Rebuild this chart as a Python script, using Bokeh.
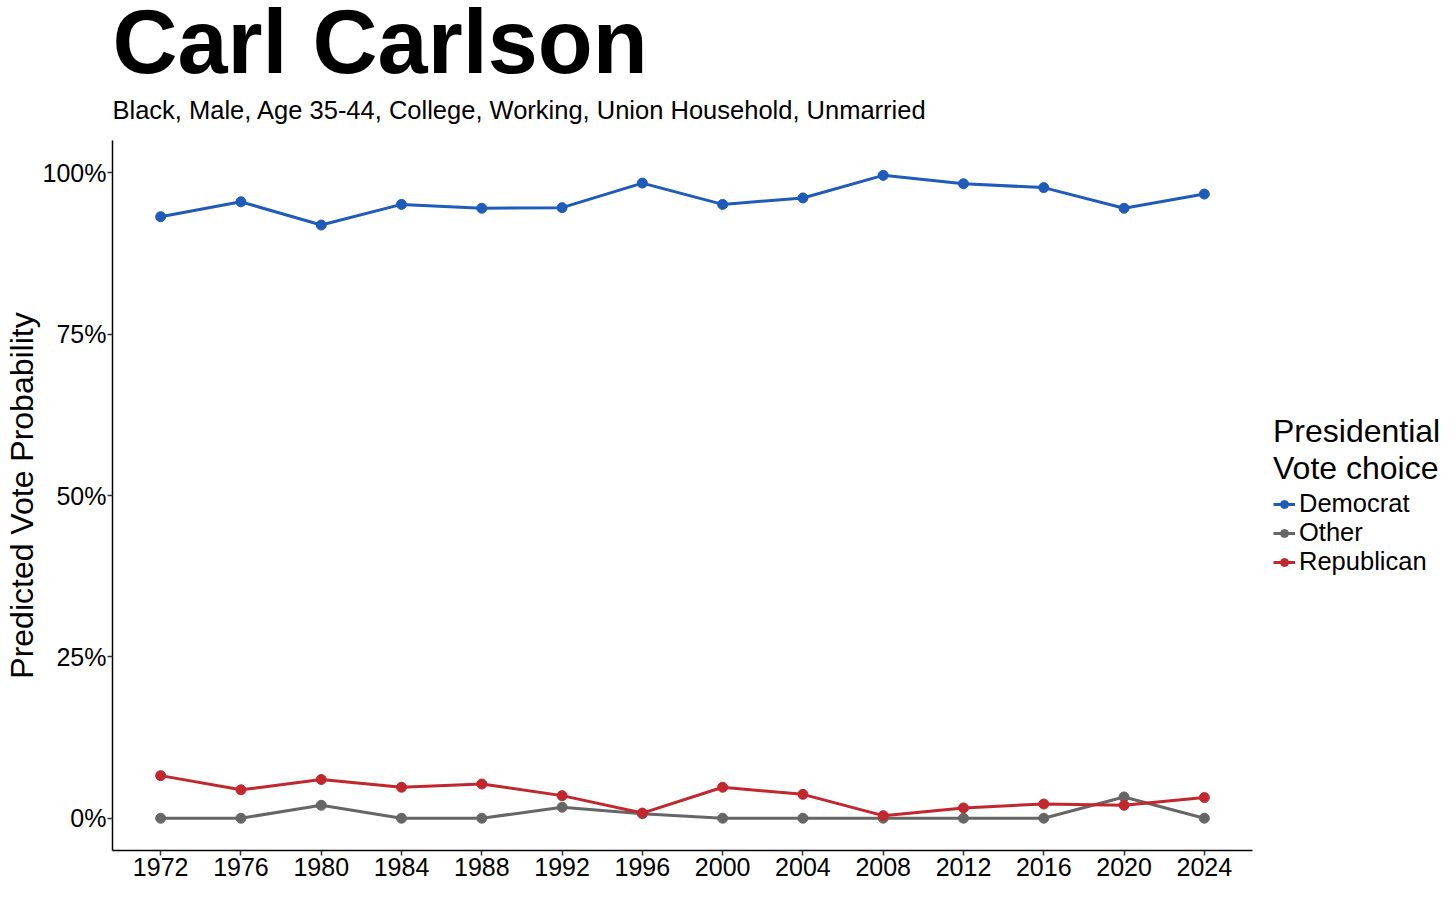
from bokeh.plotting import figure
from bokeh.models import (Title, Legend, LegendItem, FixedTicker, PrintfTickFormatter,
                          Range1d, ColumnDataSource)
from bokeh.embed import file_html
from bokeh.resources import INLINE

years = [1972, 1976, 1980, 1984, 1988, 1992, 1996, 2000, 2004, 2008, 2012, 2016, 2020, 2024]
democrat = [93.2, 95.5, 91.9, 95.1, 94.5, 94.6, 98.4, 95.1, 96.1, 99.6, 98.3, 97.7, 94.5, 96.7]
other = [0.0, 0.0, 2.0, 0.0, 0.0, 1.7, 0.7, 0.0, 0.0, 0.0, 0.0, 0.0, 3.3, 0.0]
republican = [6.6, 4.4, 6.0, 4.8, 5.3, 3.5, 0.8, 4.8, 3.7, 0.4, 1.6, 2.2, 2.0, 3.2]

series_names = ["Democrat", "Other", "Republican"]
series_values = [democrat, other, republican]
series_colors = ["#1f5bb8", "#666666", "#c1272d"]
y_ticks = [0, 25, 50, 75, 100]

title_text = "Carl Carlson"
subtitle_text = "Black, Male, Age 35-44, College, Working, Union Household, Unmarried"
y_label = "Predicted Vote Probability"
legend_title = "Presidential\nVote choice"

FONT = "Liberation Sans"

p = figure(frame_width=1140, frame_height=710, output_backend="svg", toolbar_location=None,
           x_range=Range1d(1969.6, 2026.4), y_range=Range1d(-5, 105),
           min_border_left=112, min_border_right=204, min_border_top=140,
           min_border_bottom=54)
p.xgrid.visible = False
p.ygrid.visible = False
p.outline_line_color = None
p.background_fill_color = "white"
p.border_fill_color = "white"

for ax in (p.xaxis[0], p.yaxis[0]):
    ax.axis_line_color = "black"
    ax.axis_line_width = 1.5
    ax.major_tick_line_color = "#333333"
    ax.major_tick_line_width = 1.5
    ax.major_tick_out = 5
    ax.major_tick_in = 0
    ax.minor_tick_out = 0
    ax.minor_tick_in = 0
    ax.major_label_text_font = FONT
    ax.major_label_text_font_size = "25px"
    ax.major_label_text_color = "black"
    ax.major_label_standoff = 2
p.yaxis.major_label_standoff = 1

p.xaxis.ticker = FixedTicker(ticks=years)
p.yaxis.ticker = FixedTicker(ticks=y_ticks)
p.yaxis.formatter = PrintfTickFormatter(format="%d%%")
p.yaxis.axis_label = y_label
p.yaxis.axis_label_text_font = FONT
p.yaxis.axis_label_text_font_size = "32px"
p.yaxis.axis_label_text_font_style = "normal"
p.yaxis.axis_label_text_color = "black"
p.yaxis.axis_label_standoff = 0

line_rs = []
pt_rs = []
for name, vals, col in zip(series_names, series_values, series_colors):
    src = ColumnDataSource(dict(x=years, y=vals))
    line_rs.append(p.line("x", "y", source=src, line_color=col, line_width=3))
for name, vals, col in zip(series_names, series_values, series_colors):
    src = ColumnDataSource(dict(x=years, y=vals))
    pt_rs.append(p.scatter("x", "y", source=src, size=10, fill_color=col, line_color=col))

# subtitle first (closest to frame), then main title
p.add_layout(Title(text=subtitle_text, text_font=FONT, text_font_size="25.5px",
                   text_font_style="normal", text_color="black", align="left",
                   standoff=33), "above")
p.add_layout(Title(text=title_text, text_font=FONT, text_font_size="90px",
                   text_font_style="bold", text_color="black", align="left",
                   standoff=-28), "above")

legend = Legend(items=[LegendItem(label=n, renderers=[lr, cr])
                       for n, lr, cr in zip(series_names, line_rs, pt_rs)],
                location=(21, 274), margin=0, padding=0, spacing=0,
                border_line_color=None, background_fill_alpha=0,
                title=legend_title, title_text_font=FONT, title_text_font_size="32px",
                title_text_font_style="normal", title_text_color="black",
                title_standoff=2,
                glyph_width=22, glyph_height=20, label_height=20, label_standoff=4,
                label_text_font=FONT, label_text_font_size="25.5px",
                label_text_color="black")
p.add_layout(legend, "right")

open("out.html", "w").write(file_html(p, INLINE))
